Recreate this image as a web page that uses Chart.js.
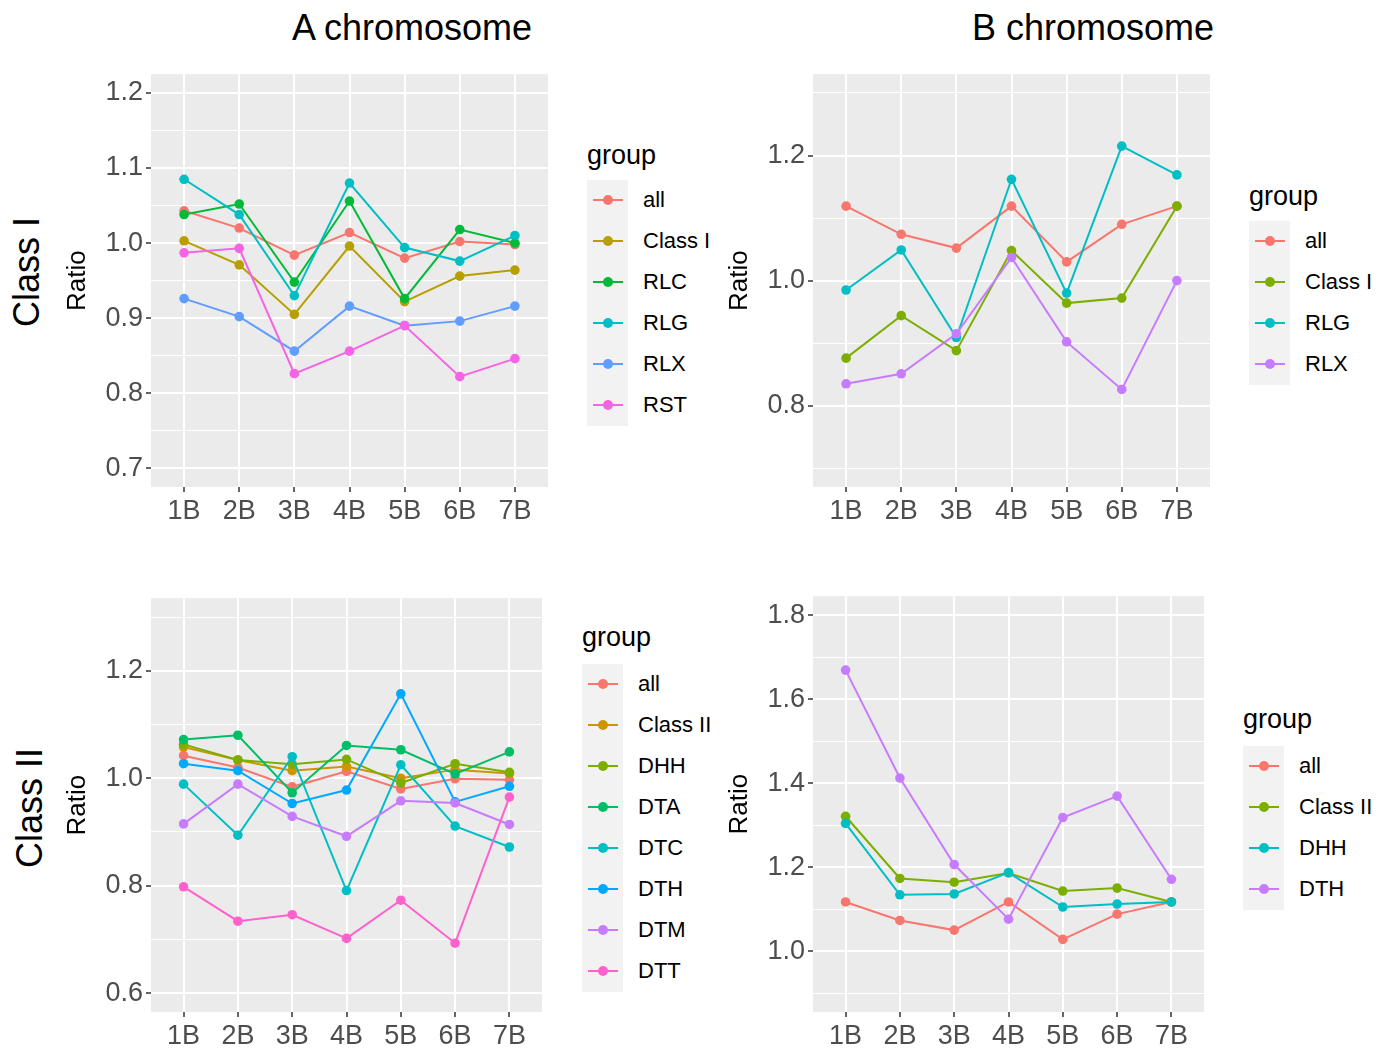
<!DOCTYPE html>
<html><head><meta charset="utf-8">
<script src="https://cdn.jsdelivr.net/npm/chart.js@4.4.1/dist/chart.umd.min.js"></script>
<style>
html,body{margin:0;padding:0;background:#fff;}
body{width:1386px;height:1052px;position:relative;overflow:hidden;font-family:"Liberation Sans",Arial,sans-serif;}
.box{position:absolute;}
.title{position:absolute;font-size:36px;color:#000;white-space:nowrap;transform:translate(-50%,-50%);line-height:1;}
.rot{position:absolute;font-size:36px;color:#000;white-space:nowrap;transform:translate(-50%,-50%) rotate(-90deg);line-height:1;}
.lt{position:absolute;font-size:27px;color:#000;white-space:nowrap;transform:translateY(-50%);line-height:1;}
.lk{position:absolute;width:41px;background:#F2F2F2;}
.ll{position:absolute;height:2px;width:30px;}
.ld{position:absolute;width:10px;height:10px;border-radius:50%;}
.lx{position:absolute;font-size:22px;color:#000;white-space:nowrap;transform:translateY(-50%);line-height:1;}
</style>
</head><body>
<div class="title" style="left:412px;top:28px;">A chromosome</div>
<div class="title" style="left:1093px;top:28px;">B chromosome</div>
<div class="rot" style="left:27px;top:272px;">Class I</div>
<div class="rot" style="left:30px;top:808px;">Class II</div>

<div class="box" style="left:62px;top:55px;width:486px;height:477px;"><canvas id="c1"></canvas></div>
<div class="box" style="left:724px;top:55px;width:486px;height:477px;"><canvas id="c2"></canvas></div>
<div class="box" style="left:62px;top:579px;width:480px;height:478px;"><canvas id="c3"></canvas></div>
<div class="box" style="left:724px;top:577px;width:480px;height:480px;"><canvas id="c4"></canvas></div>
<div id="legends"></div>

<script>
// ---------- data ----------
const categories = ['1B','2B','3B','4B','5B','6B','7B'];

// A chromosome, Class I
const aC1Groups = ['all','Class I','RLC','RLG','RLX','RST'];
const aC1All    = [1.043,1.020,0.984,1.014,0.980,1.002,0.998];
const aC1Class  = [1.003,0.971,0.905,0.996,0.922,0.956,0.964];
const aC1RLC    = [1.038,1.052,0.948,1.056,0.926,1.018,1.000];
const aC1RLG    = [1.085,1.038,0.930,1.080,0.994,0.976,1.010];
const aC1RLX    = [0.926,0.902,0.856,0.916,0.890,0.896,0.916];
const aC1RST    = [0.987,0.993,0.826,0.856,0.890,0.822,0.846];
const aC1Major  = [0.7,0.8,0.9,1.0,1.1,1.2];
const aC1Minor  = [0.75,0.85,0.95,1.05,1.15];

// B chromosome, Class I
const bC1Groups = ['all','Class I','RLG','RLX'];
const bC1All    = [1.119,1.074,1.052,1.119,1.030,1.090,1.119];
const bC1Class  = [0.876,0.944,0.888,1.048,0.964,0.972,1.119];
const bC1RLG    = [0.985,1.049,0.909,1.162,0.980,1.215,1.169];
const bC1RLX    = [0.835,0.851,0.915,1.037,0.902,0.826,1.000];
const bC1Major  = [0.8,1.0,1.2];
const bC1Minor  = [0.7,0.9,1.1,1.3];

// A chromosome, Class II
const aC2Groups = ['all','Class II','DHH','DTA','DTC','DTH','DTM','DTT'];
const aC2All    = [1.042,1.020,0.984,1.013,0.980,0.999,0.997];
const aC2Class  = [1.058,1.034,1.014,1.022,1.000,1.016,1.009];
const aC2DHH    = [1.063,1.034,1.026,1.035,0.991,1.027,1.011];
const aC2DTA    = [1.072,1.080,0.973,1.061,1.053,1.008,1.049];
const aC2DTC    = [0.989,0.894,1.040,0.791,1.025,0.911,0.872];
const aC2DTH    = [1.027,1.014,0.953,0.978,1.157,0.956,0.985];
const aC2DTM    = [0.915,0.989,0.929,0.892,0.958,0.954,0.914];
const aC2DTT    = [0.798,0.734,0.746,0.702,0.773,0.693,0.965];
const aC2Major  = [0.6,0.8,1.0,1.2];
const aC2Minor  = [0.7,0.9,1.1,1.3];

// B chromosome, Class II
const bC2Groups = ['all','Class II','DHH','DTH'];
const bC2All    = [1.117,1.073,1.050,1.117,1.028,1.088,1.117];
const bC2Class  = [1.321,1.173,1.164,1.186,1.143,1.150,1.117];
const bC2DHH    = [1.304,1.134,1.136,1.187,1.105,1.112,1.117];
const bC2DTH    = [1.669,1.412,1.206,1.076,1.318,1.369,1.171];
const bC2Major  = [1.0,1.2,1.4,1.6,1.8];
const bC2Minor  = [0.9,1.1,1.3,1.5,1.7];

// ---------- styles ----------
const pal6 = ['#F8766D','#B79F00','#00BA38','#00BFC4','#619CFF','#F564E3'];
const pal4 = ['#F8766D','#7CAE00','#00BFC4','#C77CFF'];
const pal8 = ['#F8766D','#CD9600','#7CAE00','#00BE67','#00BFC4','#00A9FF','#C77CFF','#FF61CC'];
const FAM = '"Liberation Sans", Arial, sans-serif';

const bgPlugin = {
  id:'panelBg',
  beforeDraw(chart){
    const a = chart.chartArea, ctx = chart.ctx;
    ctx.save(); ctx.fillStyle = '#EBEBEB';
    ctx.fillRect(a.left, a.top, a.right - a.left, a.bottom - a.top);
    ctx.restore();
  }
};

function isIn(v, arr){ return arr.some(m => Math.abs(m - v) < 1e-6); }

function makeChart(id, groups, series, colors, yMin, yMax, major, minor){
  const datasets = series.map((vals, i) => ({
    label: groups[i],
    data: vals.map((v, j) => ({x: j, y: v})),
    borderColor: colors[i], backgroundColor: colors[i],
    borderWidth: 2, pointRadius: 4.8, pointBorderWidth: 0, pointHoverRadius: 4.8,
    tension: 0, order: -i, clip: false
  }));
  const allTicks = major.concat(minor).sort((a,b)=>a-b);
  return new Chart(document.getElementById(id), {
    type: 'line',
    data: { datasets },
    plugins: [bgPlugin],
    options: {
      responsive: true, maintainAspectRatio: false, animation: false,
      devicePixelRatio: 1,
      layout: { padding: 0, autoPadding: false },
      plugins: { legend: {display:false}, tooltip: {enabled:false} },
      scales: {
        x: {
          type: 'linear', min: -0.6, max: categories.length - 0.4,
          afterBuildTicks: s => { s.ticks = categories.map((c, i) => ({value: i})); },
          afterFit: s => { s.height = 45; },
          ticks: { callback: v => categories[v], font: {size: 27, family: FAM}, color: '#4D4D4D',
                   padding: 3, autoSkip: false, maxRotation: 0 },
          grid: { color: '#FFFFFF', lineWidth: 2, tickColor: '#333333', tickLength: 5, tickWidth: 1.5 },
          border: { display: false }
        },
        y: {
          min: yMin, max: yMax,
          afterBuildTicks: s => { s.ticks = allTicks.map(v => ({value: v})); },
          afterFit: s => { s.width = 89; },
          ticks: { callback: v => isIn(v, major) ? v.toFixed(1) : '', font: {size: 27, family: FAM},
                   color: '#4D4D4D', padding: 3, autoSkip: false },
          grid: { color: '#FFFFFF',
                  lineWidth: c => isIn(c.tick.value, major) ? 2 : 1,
                  tickColor: c => isIn(c.tick.value, major) ? '#333333' : 'rgba(0,0,0,0)',
                  tickLength: 5, tickWidth: 1.5 },
          border: { display: false },
          title: { display: true, text: 'Ratio', font: {size: 26, family: FAM}, color: '#000', padding: 0 }
        }
      }
    }
  });
}

function makeLegend(groups, colors, boxX, titleY, firstY){
  const host = document.getElementById('legends');
  const step = 41;
  const t = document.createElement('div');
  t.className = 'lt'; t.textContent = 'group';
  t.style.left = boxX + 'px'; t.style.top = titleY + 'px';
  host.appendChild(t);
  const k = document.createElement('div');
  k.className = 'lk';
  k.style.left = boxX + 'px'; k.style.top = (firstY - step/2) + 'px';
  k.style.height = (groups.length * step) + 'px';
  host.appendChild(k);
  groups.forEach((g, i) => {
    const y = firstY + i * step;
    const l = document.createElement('div'); l.className = 'll';
    l.style.background = colors[i]; l.style.left = (boxX + 5.5) + 'px'; l.style.top = (y - 1) + 'px';
    host.appendChild(l);
    const d = document.createElement('div'); d.className = 'ld';
    d.style.background = colors[i]; d.style.left = (boxX + 15.5) + 'px'; d.style.top = (y - 5) + 'px';
    host.appendChild(d);
    const x = document.createElement('div'); x.className = 'lx'; x.textContent = g;
    x.style.left = (boxX + 56) + 'px'; x.style.top = y + 'px';
    host.appendChild(x);
  });
}

makeChart('c1', aC1Groups, [aC1All,aC1Class,aC1RLC,aC1RLG,aC1RLX,aC1RST], pal6, 0.675, 1.225, aC1Major, aC1Minor);
makeChart('c2', bC1Groups, [bC1All,bC1Class,bC1RLG,bC1RLX], pal4, 0.67, 1.33, bC1Major, bC1Minor);
makeChart('c3', aC2Groups, [aC2All,aC2Class,aC2DHH,aC2DTA,aC2DTC,aC2DTH,aC2DTM,aC2DTT], pal8, 0.565, 1.335, aC2Major, aC2Minor);
makeChart('c4', bC2Groups, [bC2All,bC2Class,bC2DHH,bC2DTH], pal4, 0.855, 1.845, bC2Major, bC2Minor);

makeLegend(aC1Groups, pal6, 587, 155, 200);
makeLegend(bC1Groups, pal4, 1249, 196, 241);
makeLegend(aC2Groups, pal8, 582, 637, 684);
makeLegend(bC2Groups, pal4, 1243, 719, 766);
</script>
</body></html>
